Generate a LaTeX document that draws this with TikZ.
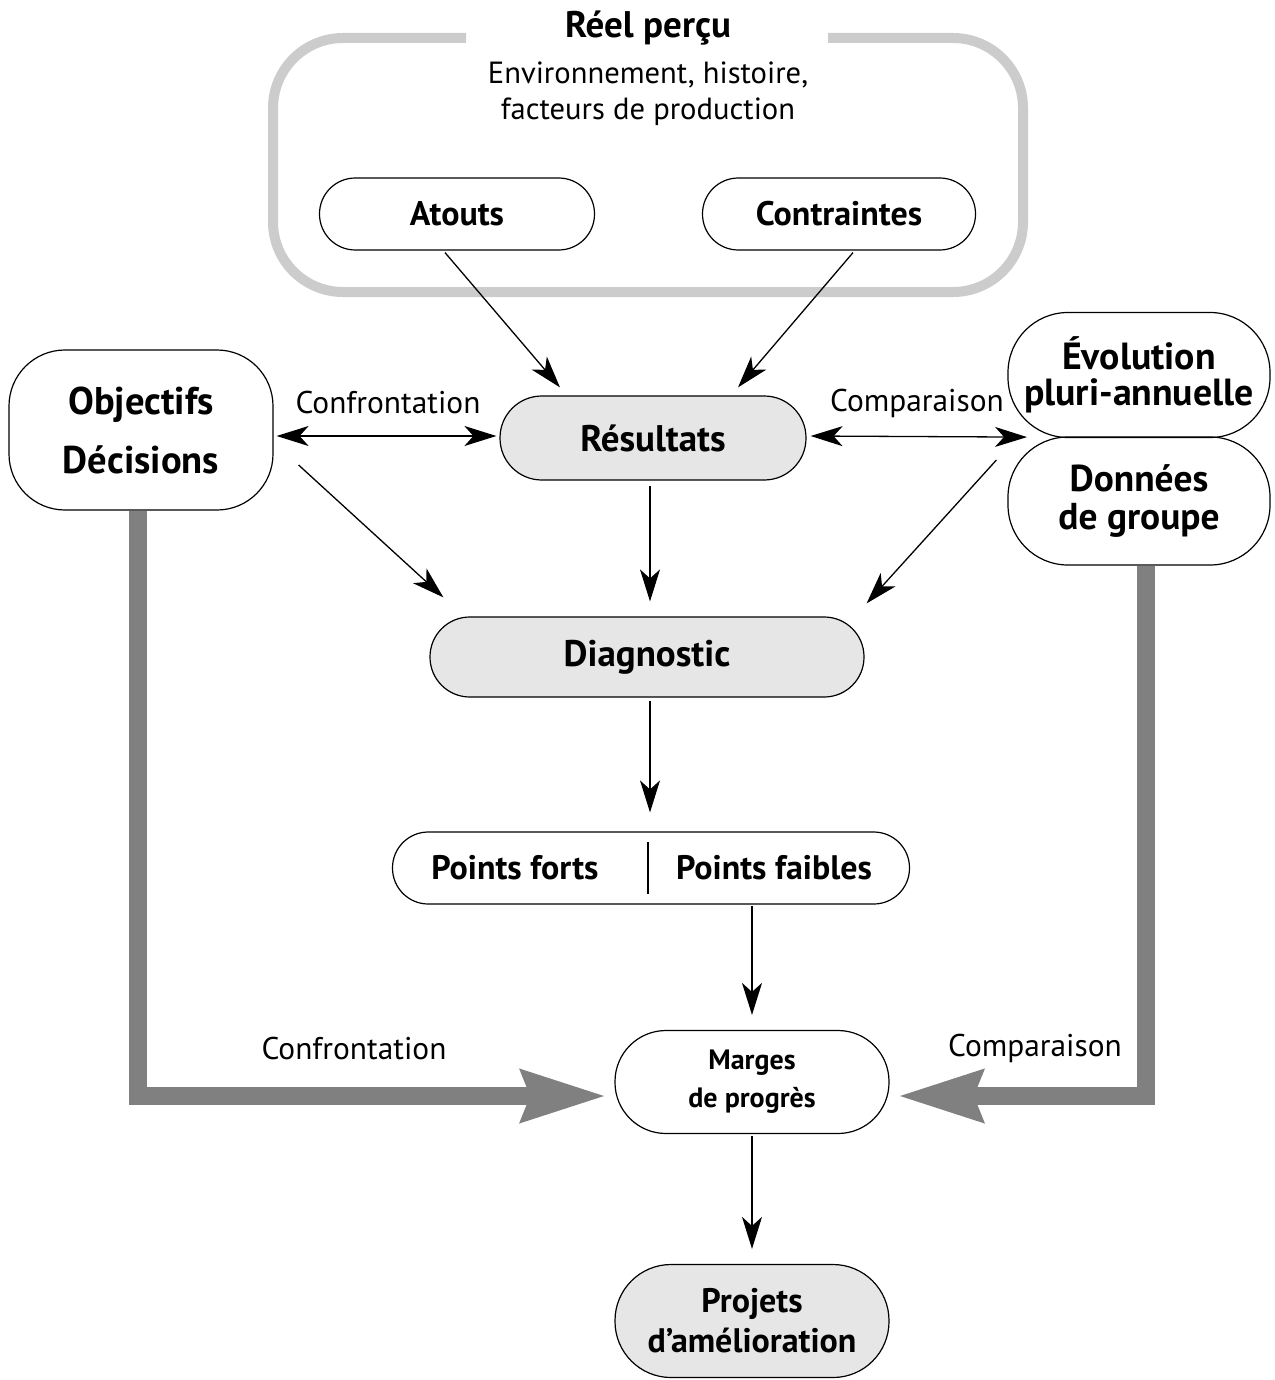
\documentclass[tikz,border=0pt]{standalone}
\usepackage{fontspec}
\setmainfont{PT Sans}
\usetikzlibrary{arrows.meta,calc}
\definecolor{framegray}{HTML}{CCCCCC}
\definecolor{fillgray}{HTML}{E6E6E6}
\definecolor{bigarrowgray}{HTML}{808080}
\begin{document}
\begin{tikzpicture}[x=0.5pt,y=-0.5pt,
  box/.style={draw,line width=0.6pt,align=center,inner sep=0pt,
    font=\bfseries\fontsize{18.5}{19}\selectfont},
  shaded/.style={box,fill=fillgray},
  lab/.style={font=\fontsize{15.7}{18}\selectfont,inner sep=0pt},
  tipthin/.tip={Stealth[length=16pt,width=10pt,inset=4.5pt]},
  arr/.style={line width=0.65pt,-tipthin},
  darr/.style={line width=0.65pt,tipthin-tipthin},
  bigarr/.style={bigarrowgray,line width=9pt,line join=miter,
    -{Stealth[length=42pt,width=25pt,inset=4pt]}}
]
\useasboundingbox (0,0) rectangle (1274,1380);

% frame around the perceived reality
\draw[framegray,line width=5pt,rounded corners=35pt]
  (466,38) -- (273,38) -- (273,292) -- (1023,292) -- (1023,38) -- (828,38);
\node[font=\bfseries\fontsize{18.5}{21}\selectfont,inner sep=0pt] (reel) at (648,28) {Réel perçu};
\node[lab,align=center,font=\fontsize{15.3}{18}\selectfont] (env) at (648,94)
  {Environnement, histoire,\\facteurs de production};

\node[box,minimum width=137.5pt,minimum height=36pt,rounded corners=17.9pt,
  font=\bfseries\fontsize{17}{19}\selectfont] (atouts) at (457,214) {Atouts};
\node[box,minimum width=136.5pt,minimum height=36pt,rounded corners=17.9pt,
  font=\bfseries\fontsize{17}{19}\selectfont] (contraintes) at (839,214) {Contraintes};

% central chain
\node[shaded,minimum width=153pt,minimum height=42pt,rounded corners=20.9pt] (resultats) at (653,438) {Résultats};
\node[shaded,minimum width=217pt,minimum height=40pt,rounded corners=19.9pt] (diagnostic) at (647,657) {Diagnostic};
\node[box,minimum width=258.5pt,minimum height=36pt,rounded corners=17.9pt] (points) at (651,868) {};
\node[font=\bfseries\fontsize{17}{19}\selectfont,inner sep=0pt] (forts) at (515,868) {Points forts};
\node[font=\bfseries\fontsize{17}{19}\selectfont,inner sep=0pt] (faibles) at (774,868) {Points faibles};
\draw[line width=0.6pt] ($(points.north)+(-3,11)$) -- ($(points.south)+(-3,-11)$);
\node[box,minimum width=137pt,minimum height=51.5pt,rounded corners=25.5pt,
  font=\bfseries\fontsize{14}{19}\selectfont] (marges) at (752,1082) {Marges\\de progrès};
\node[shaded,minimum width=137pt,minimum height=56.5pt,rounded corners=28pt,
  font=\bfseries\fontsize{17}{20}\selectfont] (projets) at (752,1321) {Projets\\d’amélioration};

% side nodes
\node[box,minimum width=132pt,minimum height=80pt,rounded corners=28pt,
  font=\bfseries\fontsize{19.3}{29.5}\selectfont] (objectifs) at (141,430) {Objectifs\\Décisions};
\node[box,minimum width=131pt,minimum height=62.5pt,rounded corners=30pt,
  font=\bfseries\fontsize{18.9}{18}\selectfont] (evolution) at (1139,375) {Évolution\\pluri-annuelle};
\node[box,minimum width=131pt,minimum height=64pt,rounded corners=30pt,
  font=\bfseries\fontsize{18.7}{19}\selectfont] (donnees) at (1139,501) {Données\\de groupe};

% labels
\node[lab] (conf1) at (388,403) {Confrontation};
\node[lab] (comp1) at (917,403) {Comparaison};
\node[lab] (conf2) at (354,1048) {Confrontation};
\node[lab] (comp2) at (1035,1048) {Comparaison};

% thin connectors
\draw[arr] ($(atouts.south)+(-12,2)$) -- ($(resultats.north)+(-93,-8)$);
\draw[arr] ($(contraintes.south)+(14,2)$) -- ($(resultats.north)+(85,-8)$);
\draw[darr] ($(objectifs.east|-resultats.west)+(3,-2)$) -- ($(resultats.west)+(-3,-2)$);
\draw[darr] ($(resultats.east)+(4,-2)$) -- ($(evolution.south)+(-112,-1)$);
\draw[arr] ($(objectifs.east)+(25,35)$) -- ($(diagnostic.north west)+(14,-19)$);
\draw[arr] ($(resultats.south)+(-3,5)$) -- ($(diagnostic.north)+(3,-15)$);
\draw[arr] ($(donnees.west)+(-11,-41)$) -- ($(diagnostic.north east)+(2,-13)$);
\draw[arr] ($(diagnostic.south)+(3,3)$) -- ($(points.north)+(-1,-19)$);
\draw[arr] ($(marges.north|-points.south)+(0,1)$) -- ($(marges.north)+(0,-15)$);
\draw[arr] ($(marges.south)+(0,2)$) -- ($(projets.north)+(0,-15)$);

% thick grey connectors
\draw[bigarr] ($(objectifs.south)+(-3,0)$) |- ($(marges.west)+(-8,14)$);
\draw[bigarr] ($(donnees.south)+(7,0)$) |- ($(marges.east)+(8,14)$);
\end{tikzpicture}
\end{document}
